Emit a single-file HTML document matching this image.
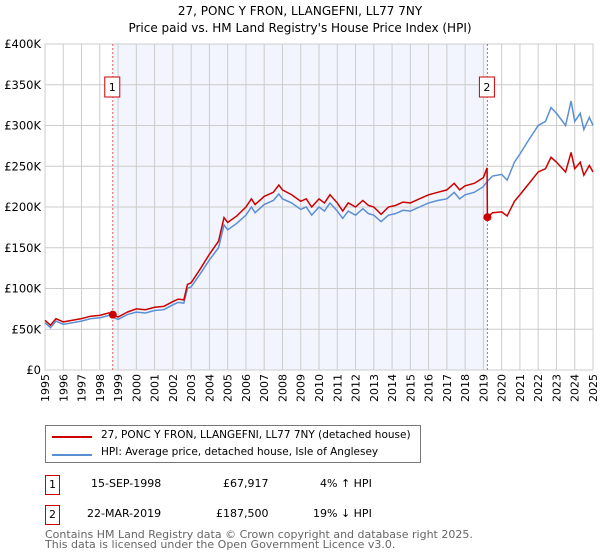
<!DOCTYPE html>
<html><head><meta charset="utf-8"><style>
body{margin:0;background:#fff;font-family:"DejaVu Sans","Liberation Sans",sans-serif;}
#wrap{position:relative;width:600px;height:560px;overflow:hidden}
.t{position:absolute;font-size:11.5px;color:#000;white-space:nowrap}
</style></head><body><div id="wrap">
<svg id="chart" width="600" height="560" style="position:absolute;left:0;top:0">
<text x="300" y="15" text-anchor="middle" font-size="12" font-family="DejaVu Sans,sans-serif">27, PONC Y FRON, LLANGEFNI, LL77 7NY</text>
<text x="300" y="32" text-anchor="middle" font-size="12" font-family="DejaVu Sans,sans-serif">Price paid vs. HM Land Registry's House Price Index (HPI)</text>
<g id="grid"></g><g id="series"></g><g id="axes"></g>
</svg>
<div style="position:absolute;left:45px;top:425px;width:374px;height:36px;border:1px solid #777;font-size:10.5px;white-space:nowrap">
<div style="position:absolute;left:6px;top:10px;width:40px;height:2px;background:#cc0000"></div>
<div style="position:absolute;left:55px;top:3px">27, PONC Y FRON, LLANGEFNI, LL77 7NY (detached house)</div>
<div style="position:absolute;left:6px;top:28px;width:40px;height:2px;background:#5b8fd4"></div>
<div style="position:absolute;left:55px;top:20px">HPI: Average price, detached house, Isle of Anglesey</div>
</div>
<div style="position:absolute;left:45px;top:475px;width:13px;height:18px;border:1px solid #c00;font-size:11px;text-align:center;line-height:18px">1</div>
<div class="t" style="left:91px;top:477px;font-size:11px">15-SEP-1998</div>
<div class="t" style="left:223px;top:477px;font-size:11px">£67,917</div>
<div class="t" style="left:320px;top:477px;font-size:11px">4% ↑ HPI</div>
<div style="position:absolute;left:45px;top:505px;width:13px;height:18px;border:1px solid #c00;font-size:11px;text-align:center;line-height:18px">2</div>
<div class="t" style="left:87px;top:507px;font-size:11px">22-MAR-2019</div>
<div class="t" style="left:216px;top:507px;font-size:11px">£187,500</div>
<div class="t" style="left:313px;top:507px;font-size:11px">19% ↓ HPI</div>
<div class="t" style="left:45px;top:530px;font-size:11px;color:#666;line-height:10px">Contains HM Land Registry data © Crown copyright and database right 2025.<br>This data is licensed under the Open Government Licence v3.0.</div>
</div>
<script>
const hpiDates=[1995.0,1995.3,1995.6,1996.0,1996.5,1997.0,1997.5,1998.0,1998.5,1998.7,1999.0,1999.5,2000.0,2000.5,2001.0,2001.5,2002.0,2002.3,2002.6,2002.8,2003.0,2003.5,2004.0,2004.5,2004.8,2005.0,2005.5,2006.0,2006.3,2006.5,2007.0,2007.5,2007.8,2008.0,2008.5,2009.0,2009.3,2009.6,2010.0,2010.3,2010.6,2011.0,2011.3,2011.6,2012.0,2012.4,2012.7,2013.0,2013.4,2013.8,2014.2,2014.6,2015.0,2015.5,2016.0,2016.5,2017.0,2017.4,2017.7,2018.0,2018.5,2019.0,2019.2,2019.5,2020.0,2020.3,2020.7,2021.0,2021.5,2022.0,2022.4,2022.7,2023.0,2023.5,2023.8,2024.0,2024.3,2024.5,2024.8,2025.0];
const hpiValues=[58,52,60,56,58,60,63,64,67,65,62,68,71,70,73,74,80,83,82,100,102,118,135,150,178,172,180,190,200,193,203,208,216,210,205,197,200,190,200,195,205,195,186,195,190,198,192,190,182,190,192,196,195,200,205,208,210,218,210,215,218,225,231,238,240,233,255,265,283,300,305,322,315,300,330,305,315,295,310,300];
const priceDates=[1995.0,1995.3,1995.6,1996.0,1996.5,1997.0,1997.5,1998.0,1998.5,1998.7,1999.0,1999.5,2000.0,2000.5,2001.0,2001.5,2002.0,2002.3,2002.6,2002.8,2003.0,2003.5,2004.0,2004.5,2004.8,2005.0,2005.5,2006.0,2006.3,2006.5,2007.0,2007.5,2007.8,2008.0,2008.5,2009.0,2009.3,2009.6,2010.0,2010.3,2010.6,2011.0,2011.3,2011.6,2012.0,2012.4,2012.7,2013.0,2013.4,2013.8,2014.2,2014.6,2015.0,2015.5,2016.0,2016.5,2017.0,2017.4,2017.7,2018.0,2018.5,2019.0,2019.2,2019.22,2019.5,2020.0,2020.3,2020.7,2021.0,2021.5,2022.0,2022.4,2022.7,2023.0,2023.5,2023.8,2024.0,2024.3,2024.5,2024.8,2025.0];
const priceValues=[61,55,63,59,61,63,66,67,70,68,65,71,75,74,77,78,84,87,86,105,107,124,142,158,187,181,189,200,210,203,213,218,227,221,215,207,210,200,210,205,215,205,195,205,200,208,202,200,191,200,202,206,205,210,215,218,221,229,221,226,229,236,248,187.5,193,194,189,207,215,229,243,247,261,255,243,267,247,255,239,251,243];
const saleDates=[1998.71,2019.22];
const salePrices=[67.917,187.5];
const saleLabels=["1","2"];
const yTicks=[0,50,100,150,200,250,300,350,400];
const yTickLabels=["£0","£50K","£100K","£150K","£200K","£250K","£300K","£350K","£400K"];
const xTicks=[1995,1996,1997,1998,1999,2000,2001,2002,2003,2004,2005,2006,2007,2008,2009,2010,2011,2012,2013,2014,2015,2016,2017,2018,2019,2020,2021,2022,2023,2024,2025];

const L=45,R=593,T=44,B=370;
const xS=d=>L+(d-1995)/(2025-1995)*(R-L);
const yS=v=>B-v/400*(B-T);
const NS="http://www.w3.org/2000/svg";
function mk(tag,parent,attrs){const e=document.createElementNS(NS,tag);for(const k in attrs)e.setAttribute(k,attrs[k]);parent.appendChild(e);return e;}
const grid=document.getElementById('grid'),ser=document.getElementById('series'),ax=document.getElementById('axes');
const shade=mk('rect',grid,{x:xS(saleDates[0]),y:T,width:xS(saleDates[1])-xS(saleDates[0]),height:B-T,fill:'#f2f5fd'});


xTicks.forEach(d=>{const l=mk('line',grid,{x1:xS(d),x2:xS(d),y1:T,y2:B,stroke:'#cccccc','stroke-width':1});


const t=mk('text',ax,{x:0,y:0,'font-size':11,'text-anchor':'end',transform:`translate(${xS(d)+4},${B+4}) rotate(-90)`});t.textContent=d;

});
yTicks.forEach((v,i)=>{const l=mk('line',grid,{x1:L,x2:R,y1:yS(v),y2:yS(v),stroke:'#cccccc','stroke-width':1});


const t=mk('text',ax,{x:L-4,y:yS(v)+4,'font-size':11.5,'text-anchor':'end'});t.textContent=yTickLabels[i];

});
const frame=mk('rect',grid,{x:L,y:T,width:R-L,height:B-T,fill:'none',stroke:'#cccccc'});


saleDates.forEach((d,i)=>{const l=mk('line',ser,{x1:xS(d),x2:xS(d),y1:T,y2:B,stroke:'#e06060','stroke-dasharray':'2,2','stroke-width':1});


const bx=mk('rect',ser,{x:xS(d)-8,y:77,width:15,height:20,fill:'#fff',stroke:'#c00'});


const t=mk('text',ser,{x:xS(d)-0.5,y:91,'font-size':11,'text-anchor':'middle'});t.textContent=saleLabels[i];

});
const hp=mk('polyline',ser,{points:hpiDates.map((d,i)=>xS(d)+','+yS(hpiValues[i])).join(' '),fill:'none',stroke:'#5b8fd4','stroke-width':1.5});


const pp=mk('polyline',ser,{points:priceDates.map((d,i)=>xS(d)+','+yS(priceValues[i])).join(' '),fill:'none',stroke:'#cc0000','stroke-width':1.5});


saleDates.forEach((d,i)=>{const c=mk('circle',ser,{cx:xS(d),cy:yS(salePrices[i]),r:4,fill:'#cc0000'});

});
</script>
</body></html>
